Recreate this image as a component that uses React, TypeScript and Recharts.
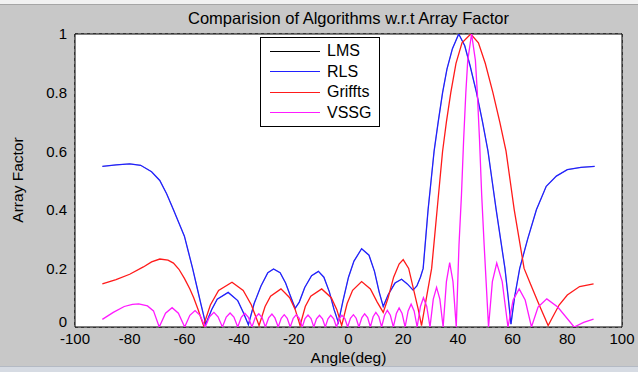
import React from 'react'
import {
  LineChart,
  Line,
  XAxis,
  YAxis,
  CartesianGrid,
  ReferenceArea,
} from 'recharts'

const xTicks = [-100, -80, -60, -40, -20, 0, 20, 40, 60, 80, 100]
const yTicks = [0, 0.2, 0.4, 0.6, 0.8, 1]

// [angle in deg, array factor]
const rlsPoints: [number, number][] = [
  [-90, 0.548], [-85, 0.553], [-80, 0.557], [-76, 0.552], [-72, 0.53], [-69, 0.5],
  [-66.5, 0.455], [-64, 0.4], [-62, 0.355], [-60, 0.31], [-58.5, 0.255], [-57, 0.2],
  [-55.5, 0.14], [-54, 0.08], [-52.2, 0.01],
  [-50, 0.06], [-48, 0.095], [-44, 0.118], [-40.5, 0.09], [-38.5, 0.05], [-36.6, 0.008],
  [-34.5, 0.08], [-32, 0.14], [-29.5, 0.185], [-27.4, 0.198], [-25, 0.185], [-23, 0.15],
  [-21, 0.1], [-19.5, 0.064],
  [-18, 0.085], [-16, 0.135], [-13.5, 0.175], [-11, 0.19], [-9, 0.17], [-7, 0.12],
  [-5.3, 0.06], [-3.7, 0.015],
  [-2, 0.09], [0, 0.17], [2, 0.225], [4.8, 0.267], [7.5, 0.245], [9.5, 0.19],
  [11.2, 0.12], [12.7, 0.07],
  [14.5, 0.11], [17, 0.15], [19.4, 0.163], [21.5, 0.147], [23.6, 0.126], [25, 0.14],
  [26.3, 0.17], [27.3, 0.2], [28.2, 0.3], [29.1, 0.4], [30.2, 0.5], [31.3, 0.6],
  [32.8, 0.7], [34.4, 0.8], [36, 0.88], [38, 0.95], [40.3, 1.0], [42.5, 0.96],
  [44.5, 0.89], [46.8, 0.8], [49, 0.7], [51, 0.6], [52.5, 0.5], [54, 0.4],
  [55.6, 0.3], [57.2, 0.2], [58.4, 0.1], [59.4, 0.01],
  [60.7, 0.1], [62.6, 0.2], [65.5, 0.3], [68.7, 0.4], [72.3, 0.48], [76, 0.515],
  [80, 0.537], [85, 0.545], [90, 0.548],
]

const griffPoints: [number, number][] = [
  [-90, 0.147], [-85, 0.162], [-80, 0.18], [-75, 0.205], [-72, 0.222], [-69, 0.232],
  [-66, 0.228], [-64, 0.218], [-62, 0.197], [-60, 0.166], [-58, 0.13], [-56.6, 0.1],
  [-55, 0.06], [-53, 0.005],
  [-50.5, 0.075], [-47.5, 0.125], [-42.6, 0.153], [-38.5, 0.125], [-35.5, 0.075], [-32.7, 0.005],
  [-30.5, 0.07], [-28.5, 0.105], [-24.7, 0.13], [-21.5, 0.1], [-19.5, 0.06], [-17.7, 0.005],
  [-15.8, 0.07], [-13.8, 0.105], [-9.8, 0.13], [-6.3, 0.1], [-4.3, 0.06], [-2.5, 0.005],
  [-0.5, 0.08], [1.5, 0.125], [4.8, 0.155], [8, 0.13], [10.5, 0.085], [12.7, 0.05],
  [14.5, 0.1], [16.5, 0.17], [18.5, 0.215], [20, 0.23], [22, 0.2], [24, 0.12],
  [25.5, 0.06], [26.7, 0.005],
  [28.5, 0.1], [30.4, 0.2], [31.4, 0.3], [32.4, 0.4], [33.4, 0.5], [34.4, 0.6],
  [35.8, 0.7], [37.4, 0.8], [39.3, 0.9], [41.5, 0.97], [44.7, 1.0], [47.5, 0.97],
  [50, 0.9], [52.8, 0.8], [55.3, 0.7], [57.6, 0.6], [59.1, 0.5], [60.6, 0.4],
  [62.4, 0.3], [64.2, 0.2], [66.5, 0.148], [69.5, 0.08], [73, 0.005],
  [75, 0.04], [77, 0.075], [80, 0.109], [84.5, 0.138], [89.6, 0.147],
]

const vssgPoints: [number, number][] = [
  [-90, 0.026], [-86, 0.05], [-82, 0.07], [-79, 0.077], [-76.7, 0.079], [-73.5, 0.072],
  [-71.3, 0.055], [-69.2, 0],
  [-66.9, 0.047], [-64.5, 0.066], [-62.2, 0.047], [-59.9, 0],
  [-58, 0.04], [-56.1, 0.056], [-54.3, 0.04], [-52.4, 0],
  [-50.8, 0.035], [-49.2, 0.05], [-47.7, 0.035], [-46.1, 0],
  [-44.7, 0.034], [-43.3, 0.048], [-41.9, 0.034], [-40.5, 0],
  [-39.2, 0.033], [-37.9, 0.047], [-36.6, 0.033], [-35.3, 0],
  [-34.1, 0.032], [-32.8, 0.045], [-31.6, 0.032], [-30.4, 0],
  [-29.2, 0.031], [-28, 0.044], [-26.9, 0.031], [-25.7, 0],
  [-24.6, 0.03], [-23.5, 0.042], [-22.4, 0.03], [-21.3, 0],
  [-20.2, 0.03], [-19.1, 0.042], [-18, 0.03], [-16.9, 0],
  [-15.9, 0.029], [-14.8, 0.041], [-13.7, 0.029], [-12.7, 0],
  [-11.7, 0.028], [-10.6, 0.04], [-9.5, 0.028], [-8.5, 0],
  [-7.5, 0.028], [-6.5, 0.04], [-5.4, 0.028], [-4.4, 0],
  [-3.4, 0.028], [-2.4, 0.04], [-1.3, 0.028], [-0.3, 0],
  [0.7, 0.03], [1.8, 0.042], [2.8, 0.03], [3.8, 0],
  [4.9, 0.032], [5.9, 0.045], [7, 0.032], [8, 0],
  [9, 0.035], [10, 0.05], [11.1, 0.035], [12.1, 0],
  [13.2, 0.04], [14.2, 0.057], [15.3, 0.04], [16.4, 0],
  [17.5, 0.046], [18.5, 0.065], [19.6, 0.046], [20.7, 0],
  [21.8, 0.055], [22.9, 0.078], [24, 0.055], [25.1, 0],
  [26.3, 0.07], [27.4, 0.1], [28.6, 0.07], [29.8, 0],
  [31, 0.095], [32.2, 0.135], [33.4, 0.095], [34.6, 0],
  [35.8, 0.155], [37, 0.22], [38.2, 0.155], [39.4, 0],
  [40.4, 0.28], [41.3, 0.45], [42.1, 0.64], [42.9, 0.8], [43.6, 0.91], [45, 1.0],
  [46.4, 0.91], [47.1, 0.8], [47.9, 0.64], [48.7, 0.45], [49.6, 0.28], [51.2, 0],
  [52.6, 0.155], [54.2, 0.218], [56.2, 0.155], [58.3, 0],
  [60.2, 0.092], [62.4, 0.13], [64.6, 0.092], [66.9, 0],
  [69.3, 0.068], [72.5, 0.096], [76.5, 0.068], [82.5, 0],
  [86, 0.016], [89.6, 0.027],
]

// the LMS trace is not visible in the figure: it lies under the RLS trace
const lmsPoints = rlsPoints

const toRows = (pts: [number, number][]) => pts.map(([angle, af]) => ({ angle, af }))

const series = [
  { name: 'LMS', color: '#000000', width: 0.3, rows: toRows(lmsPoints) },
  { name: 'RLS', color: '#2020ff', width: 1.3, rows: toRows(rlsPoints) },
  { name: 'Griffts', color: '#ff1a1a', width: 1.3, rows: toRows(griffPoints) },
  { name: 'VSSG', color: '#ff1aff', width: 1.3, rows: toRows(vssgPoints) },
]

const FONT = '"Liberation Sans", Arial, Helvetica, sans-serif'

const YTick = ({ x, y, payload }: any) => (
  <text
    x={x}
    y={payload.value === 0 ? y - 5 : y}
    dy='0.355em'
    textAnchor='end'
    fill='#000'
    fontSize={15}
    fontFamily={FONT}>
    {payload.value}
  </text>
)

const LegendBox = () => (
  <div
    style={{
      position: 'absolute',
      left: 260,
      top: 37,
      width: 120,
      height: 90,
      background: '#fff',
      border: '1px solid #000',
      boxSizing: 'border-box',
      padding: '3px 0 0 9px',
      fontSize: 16,
      zIndex: 2,
    }}>
    {series.map((s) => (
      <div
        key={s.name}
        style={{ display: 'flex', alignItems: 'center', height: 20.5 }}>
        <span
          style={{
            display: 'inline-block',
            width: 50,
            height: 0,
            borderTop: `1px solid ${s.color}`,
            marginRight: 7,
          }}
        />
        <span style={{ color: '#000' }}>{s.name}</span>
      </div>
    ))}
  </div>
)

const App = () => {
  return (
    <div
      style={{
        position: 'relative',
        width: 638,
        height: 372,
        background: '#c8c8c8',
        fontFamily: FONT,
        overflow: 'hidden',
      }}>
      <style>{'body{margin:0}'}</style>
      <div
        style={{
          position: 'absolute',
          left: 0,
          top: 0,
          width: 638,
          height: 4,
          background: '#f2f2f2',
          borderBottom: '1px solid #a6a6a6',
        }}
      />
      <div
        style={{
          position: 'absolute',
          left: 0,
          bottom: 0,
          width: 638,
          height: 5,
          background: '#d6dbe3',
          borderTop: '1px solid #b4bac4',
        }}
      />
      <div
        style={{
          position: 'absolute',
          left: 75,
          width: 547,
          top: 8,
          textAlign: 'center',
          fontSize: 16.5,
          lineHeight: '20px',
          color: '#000',
        }}>
        Comparision of Algorithms w.r.t Array Factor
      </div>
      <div
        style={{
          position: 'absolute',
          left: 18,
          top: 180,
          transform: 'translate(-50%, -50%) rotate(-90deg)',
          whiteSpace: 'nowrap',
          fontSize: 15.5,
          color: '#000',
        }}>
        Array Factor
      </div>
      <div
        style={{
          position: 'absolute',
          left: 75,
          width: 547,
          top: 348,
          textAlign: 'center',
          fontSize: 15.5,
          lineHeight: '20px',
          color: '#000',
        }}>
        Angle(deg)
      </div>
      <LineChart
        width={638}
        height={372}
        margin={{ top: 34, right: 16, bottom: 15, left: 45 }}
        style={{ position: 'absolute', left: 0, top: 0 }}>
        <ReferenceArea
          x1={-100}
          x2={100}
          y1={0}
          y2={1}
          fill='#ffffff'
          fillOpacity={1}
          stroke='none'
        />
        <CartesianGrid
          stroke='#000'
          strokeDasharray='3 3'
          horizontalValues={yTicks}
          verticalValues={xTicks}
        />
        <XAxis
          type='number'
          dataKey='angle'
          domain={[-100, 100]}
          ticks={xTicks}
          allowDataOverflow
          axisLine={false}
          tickLine={false}
          tickSize={5}
          tickMargin={1}
          height={30}
          interval={0}
          tick={{ fill: '#000', fontSize: 15, fontFamily: FONT }}
        />
        <YAxis
          type='number'
          domain={[0, 1]}
          ticks={yTicks}
          allowDataOverflow
          axisLine={false}
          tickLine={false}
          width={30}
          interval={0}
          tick={<YTick />}
        />
        {series.map((s) => (
          <Line
            key={s.name}
            name={s.name}
            data={s.rows}
            dataKey='af'
            type='linear'
            stroke={s.color}
            strokeWidth={s.width}
            dot={false}
            activeDot={false}
            isAnimationActive={false}
          />
        ))}
        <ReferenceArea
          x1={-100}
          x2={100}
          y1={0}
          y2={1}
          fill='none'
          stroke='#000'
          strokeWidth={1}
        />
      </LineChart>
      <LegendBox />
    </div>
  )
}

export default App
